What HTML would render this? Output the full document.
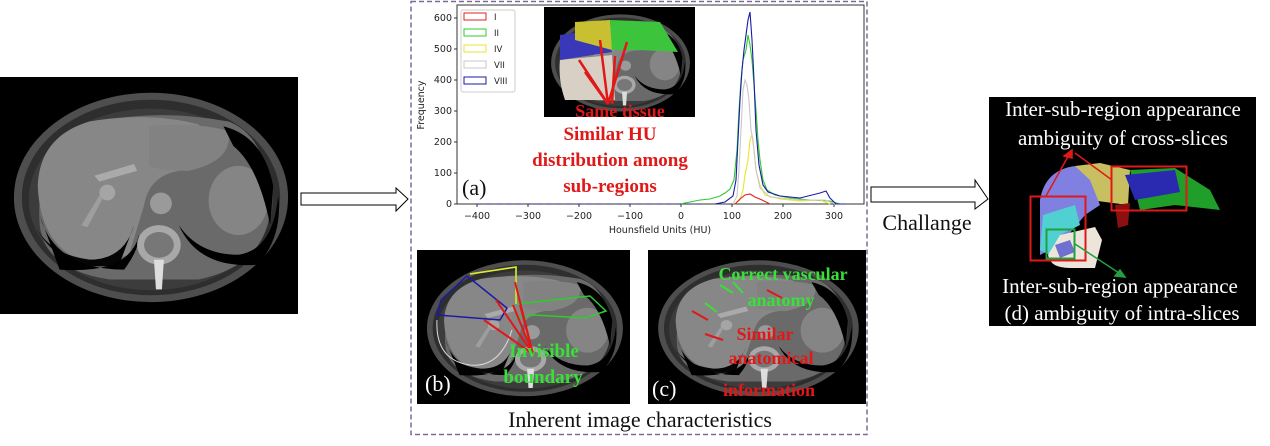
<!DOCTYPE html>
<html><head><meta charset="utf-8"><style>
html,body{margin:0;padding:0;background:#fff;width:1270px;height:446px;overflow:hidden}
svg{display:block}
</style></head><body>
<svg width="1270" height="446" viewBox="0 0 1270 446" xmlns="http://www.w3.org/2000/svg" font-family="Liberation Serif, serif">
<defs>
<symbol id="ct" viewBox="0 0 300 240" preserveAspectRatio="none">
<rect width="300" height="240" fill="#000"/>
<ellipse cx="152" cy="122" rx="138" ry="106" fill="#4e4e4e"/>
<ellipse cx="152" cy="122" rx="130" ry="99" fill="#2e2e2e"/>
<ellipse cx="152" cy="124" rx="123" ry="92" fill="#3c3c3c"/>
<path d="M40 150 Q35 80 80 50 Q150 30 230 45 Q270 60 272 130 Q270 190 200 205 L110 205 Q45 195 40 150Z" fill="#6a6a6a"/>
<path d="M38 110 Q40 60 90 45 Q150 35 200 48 Q215 80 180 95 Q150 100 145 130 L130 180 Q100 190 70 180 Q40 160 38 110Z" fill="#878787"/>
<path d="M150 50 Q200 45 230 55 Q235 85 190 95 Q160 95 150 90Z" fill="#828282"/>
<ellipse cx="240" cy="125" rx="30" ry="35" fill="#858585"/>
<path d="M35 150 Q60 200 120 190 L135 150 Q125 185 90 185 Q50 180 35 150Z" fill="#050505"/>
<path d="M40 140 Q55 195 125 195 Q140 175 140 160 Q130 200 60 195Z" fill="#000"/>
<path d="M180 150 Q200 195 260 190 Q285 160 280 120 Q275 175 240 180 Q200 180 180 150Z" fill="#000"/>
<path d="M225 50 Q265 60 275 110 L272 150 Q260 90 235 70Z" fill="#000"/>
<circle cx="162" cy="128" r="11" fill="#9a9a9a"/>
<ellipse cx="160" cy="170" rx="22" ry="20" fill="#a8a8a8"/>
<ellipse cx="160" cy="170" rx="15" ry="13" fill="#777"/>
<path d="M155 185 L165 185 L163 215 L157 215Z" fill="#ddd"/>
<path d="M95 100 L135 88 L138 95 L100 106Z" fill="#aaa"/>
<circle cx="108" cy="117" r="8" fill="#a5a5a5"/>
<path d="M82 150 L100 120 L104 122 L88 152Z" fill="#9e9e9e"/>
</symbol>
</defs>

<use href="#ct" x="0" y="77" width="298" height="237"/>
<path d="M301 193 L396 193 L396 188 L408 199 L396 211 L396 205 L301 205Z" fill="#fff" stroke="#000" stroke-width="1"/>

<rect x="411" y="1.5" width="456" height="433" fill="none" stroke="#7a6a9a" stroke-width="1.5" stroke-dasharray="5,3"/>

<g font-family="DejaVu Sans, Liberation Sans, sans-serif" font-size="9.5" fill="#222">
<rect x="457" y="5" width="407" height="199" fill="none" stroke="#333" stroke-width="1"/>
<g text-anchor="end">
<text x="452" y="207">0</text><text x="452" y="176">100</text><text x="452" y="145">200</text><text x="452" y="114">300</text><text x="452" y="83">400</text><text x="452" y="52">500</text><text x="452" y="21">600</text>
</g>
<g stroke="#333"><line x1="454" y1="204" x2="457" y2="204"/><line x1="454" y1="173" x2="457" y2="173"/><line x1="454" y1="142" x2="457" y2="142"/><line x1="454" y1="111" x2="457" y2="111"/><line x1="454" y1="80" x2="457" y2="80"/><line x1="454" y1="49" x2="457" y2="49"/><line x1="454" y1="18" x2="457" y2="18"/></g>
<g text-anchor="middle">
<text x="477" y="219">−400</text><text x="528" y="219">−300</text><text x="579" y="219">−200</text><text x="630" y="219">−100</text><text x="681" y="219">0</text><text x="732" y="219">100</text><text x="783" y="219">200</text><text x="834" y="219">300</text>
<text x="660" y="233">Hounsfield Units (HU)</text>
</g>
<g stroke="#333"><line x1="477" y1="204" x2="477" y2="207"/><line x1="528" y1="204" x2="528" y2="207"/><line x1="579" y1="204" x2="579" y2="207"/><line x1="630" y1="204" x2="630" y2="207"/><line x1="681" y1="204" x2="681" y2="207"/><line x1="732" y1="204" x2="732" y2="207"/><line x1="783" y1="204" x2="783" y2="207"/><line x1="834" y1="204" x2="834" y2="207"/></g>
<text x="424" y="105" text-anchor="middle" transform="rotate(-90 424 105)">Frequency</text>
</g>
<g fill="none" stroke-width="1.1">
<polyline stroke="#2ecc2e" points="680,204 690,202 700,200 710,199 720,196 725,193 730,189 734,180 737,150 739,110 741,80 743,60 746,50 748,35 750,45 752,60 754,85 756,110 758,140 760,160 763,180 767,190 775,195 790,198 810,200 830,201 840,204"/>
<polyline stroke="#e6e62e" points="735,204 740,200 743,190 745,175 748,160 750,140 752,135 754,150 756,170 760,185 765,195 780,199 800,201 820,200 830,204"/>
<polyline stroke="#c8c8c8" points="733,204 737,196 739,170 741,130 743,90 745,80 747,85 749,100 751,130 753,140 756,170 760,188 770,197 800,200 825,200 835,204"/>
<polyline stroke="#1a1aa8" points="715,204 725,202 733,196 736,180 738,140 740,100 742,70 744,50 746,35 748,20 750,12 752,40 754,80 756,130 759,165 763,185 768,192 780,196 800,198 820,193 826,191 830,198 836,204 846,204"/>
<polyline stroke="#e02020" points="735,204 740,199 745,195 750,194 755,197 762,200 770,204"/>
<line x1="477" y1="204" x2="700" y2="204" stroke="#1a1aa8" stroke-dasharray="4,6"/>
</g>
<rect x="461" y="10" width="54" height="82" fill="#fff" stroke="#ccc" rx="2"/>
<g font-family="DejaVu Sans, Liberation Sans, sans-serif" font-size="8.5" fill="#222">
<rect x="464" y="13" width="22" height="7" fill="none" stroke="#e02020"/><text x="494" y="20">I</text>
<rect x="464" y="29" width="22" height="7" fill="none" stroke="#2ecc2e"/><text x="494" y="36">II</text>
<rect x="464" y="45" width="22" height="7" fill="none" stroke="#e6e62e"/><text x="494" y="52">IV</text>
<rect x="464" y="61" width="22" height="7" fill="none" stroke="#c8c8c8"/><text x="494" y="68">VII</text>
<rect x="464" y="77" width="22" height="7" fill="none" stroke="#1a1aa8"/><text x="494" y="84">VIII</text>
</g>
<use href="#ct" x="544" y="7" width="151" height="110"/>
<path d="M560 35 L610 28 L612 52 L560 60Z" fill="#3838b8"/>
<path d="M560 60 L612 55 L615 100 L565 100 Q558 80 560 60Z" fill="#d8d0c4"/>
<path d="M575 22 L610 20 L612 50 L575 40Z" fill="#c8c030"/>
<path d="M610 20 L660 22 L678 52 L640 50 L612 50Z" fill="#3cc43c"/>
<g stroke="#e01818" stroke-width="2.5"><line x1="579" y1="60" x2="608" y2="104"/><line x1="585" y1="72" x2="608" y2="104"/><line x1="600" y1="40" x2="608" y2="104"/><line x1="627" y1="42" x2="608" y2="104"/><line x1="615" y1="56" x2="612" y2="104"/></g>
<text x="620" y="117" text-anchor="middle" font-size="18" font-weight="bold" fill="#e01818">Same tissue</text>
<g font-size="19" font-weight="bold" fill="#e01818" text-anchor="middle">
<text x="610" y="140">Similar HU</text><text x="610" y="166">distribution among</text><text x="610" y="192">sub-regions</text>
</g>
<text x="462" y="195" font-size="22" fill="#111">(a)</text>

<use href="#ct" x="417" y="250" width="213" height="154"/>
<polyline points="470,274 516,267 516,304 534,302 590,296 606,311 585,318 534,315 516,318" fill="none" stroke="#2ecc2e" stroke-width="1.5"/>
<polyline points="470,274 516,267 516,304" fill="none" stroke="#e6e62e" stroke-width="1.5"/>
<polygon points="467,276 441,300 437,315 500,320 507,308" fill="none" stroke="#1a1aa8" stroke-width="1.5"/>
<path d="M437 320 Q435 360 470 365 Q500 368 512 330" fill="none" stroke="#ddd" stroke-width="1"/>
<g stroke="#e01818" stroke-width="2"><line x1="533" y1="354" x2="496" y2="300"/><line x1="533" y1="354" x2="513" y2="305"/><line x1="533" y1="354" x2="515" y2="282"/><line x1="533" y1="354" x2="484" y2="320"/><line x1="533" y1="354" x2="520" y2="305"/></g>
<g font-size="19" font-weight="bold" fill="#3ae03a" text-anchor="middle"><text x="544" y="357">Invisible</text><text x="543" y="383">boundary</text></g>
<text x="425" y="391" font-size="22" fill="#fff">(b)</text>

<use href="#ct" x="648" y="250" width="218" height="154"/>
<g font-size="18" font-weight="bold" fill="#3ae03a" text-anchor="middle"><text x="783" y="280">Correct vascular</text><text x="781" y="306">anatomy</text></g>
<g font-size="18" font-weight="bold" fill="#e01818" text-anchor="middle"><text x="765" y="340">Similar</text><text x="771" y="364">anatomical</text><text x="769" y="396">information</text></g>
<g stroke-width="2"><line x1="720" y1="285" x2="733" y2="293" stroke="#3ae03a"/><line x1="733" y1="282" x2="743" y2="293" stroke="#3ae03a"/><line x1="705" y1="303" x2="717" y2="312" stroke="#3ae03a"/><line x1="692" y1="311" x2="708" y2="320" stroke="#e01818"/><line x1="705" y1="334" x2="723" y2="340" stroke="#e01818"/><line x1="767" y1="290" x2="782" y2="298" stroke="#e01818"/></g>
<text x="652" y="396" font-size="22" fill="#fff">(c)</text>

<text x="640" y="427" text-anchor="middle" font-size="22" fill="#111">Inherent image characteristics</text>

<path d="M871 187 L975 187 L975 180 L988 199 L975 209 L975 202 L871 202Z" fill="#fff" stroke="#000" stroke-width="1"/>
<text x="927" y="230" text-anchor="middle" font-size="22" fill="#111">Challange</text>

<rect x="989" y="97" width="267" height="229" fill="#000"/>
<path d="M1075 166 L1100 163 L1130 170 L1128 205 L1090 200Z" fill="#c8c060"/>
<path d="M1075 166 Q1045 170 1040 200 L1040 255 L1060 245 L1085 215 L1100 205 L1090 180Z" fill="#8080e0"/>
<path d="M1043 215 L1075 205 L1080 225 L1060 235 L1050 255 L1040 250Z" fill="#50d0d0"/>
<path d="M1060 235 L1095 227 L1102 240 L1095 268 L1070 268 Q1050 268 1048 255Z" fill="#ede5dc"/>
<path d="M1055 245 L1070 240 L1075 252 L1060 258Z" fill="#7070d0"/>
<path d="M1130 170 L1175 168 L1210 190 L1220 210 L1175 205 L1140 210Z" fill="#1f9e2a"/>
<path d="M1125 175 L1175 170 L1180 192 L1135 200Z" fill="#2a2ab0"/>
<path d="M1115 205 L1130 203 L1128 225 L1118 228Z" fill="#8b1010"/>
<rect x="1030.5" y="196.5" width="55" height="64" fill="none" stroke="#e01818" stroke-width="2"/>
<rect x="1111.5" y="166.5" width="75" height="44" fill="none" stroke="#e01818" stroke-width="2"/>
<rect x="1046.5" y="229.5" width="28" height="29" fill="none" stroke="#20a040" stroke-width="2"/>
<g stroke="#e01818" stroke-width="1.5" fill="#e01818"><line x1="1046" y1="196" x2="1070" y2="153"/><line x1="1112" y1="180" x2="1075" y2="153"/><polygon points="1072,150 1064,156 1072,158"/></g>
<g stroke="#20a040" stroke-width="1.5"><line x1="1075" y1="244" x2="1122" y2="275"/><polygon points="1125,277 1115,276 1120,270" fill="#20a040"/></g>
<g fill="#fff" font-size="21" text-anchor="middle">
<text x="1123" y="116">Inter-sub-region appearance</text>
<text x="1123" y="145">ambiguity of cross-slices</text>
<text x="1120" y="293">Inter-sub-region appearance</text>
<text x="1122" y="320">(d)  ambiguity of intra-slices</text>
</g>
</svg>
</body></html>
